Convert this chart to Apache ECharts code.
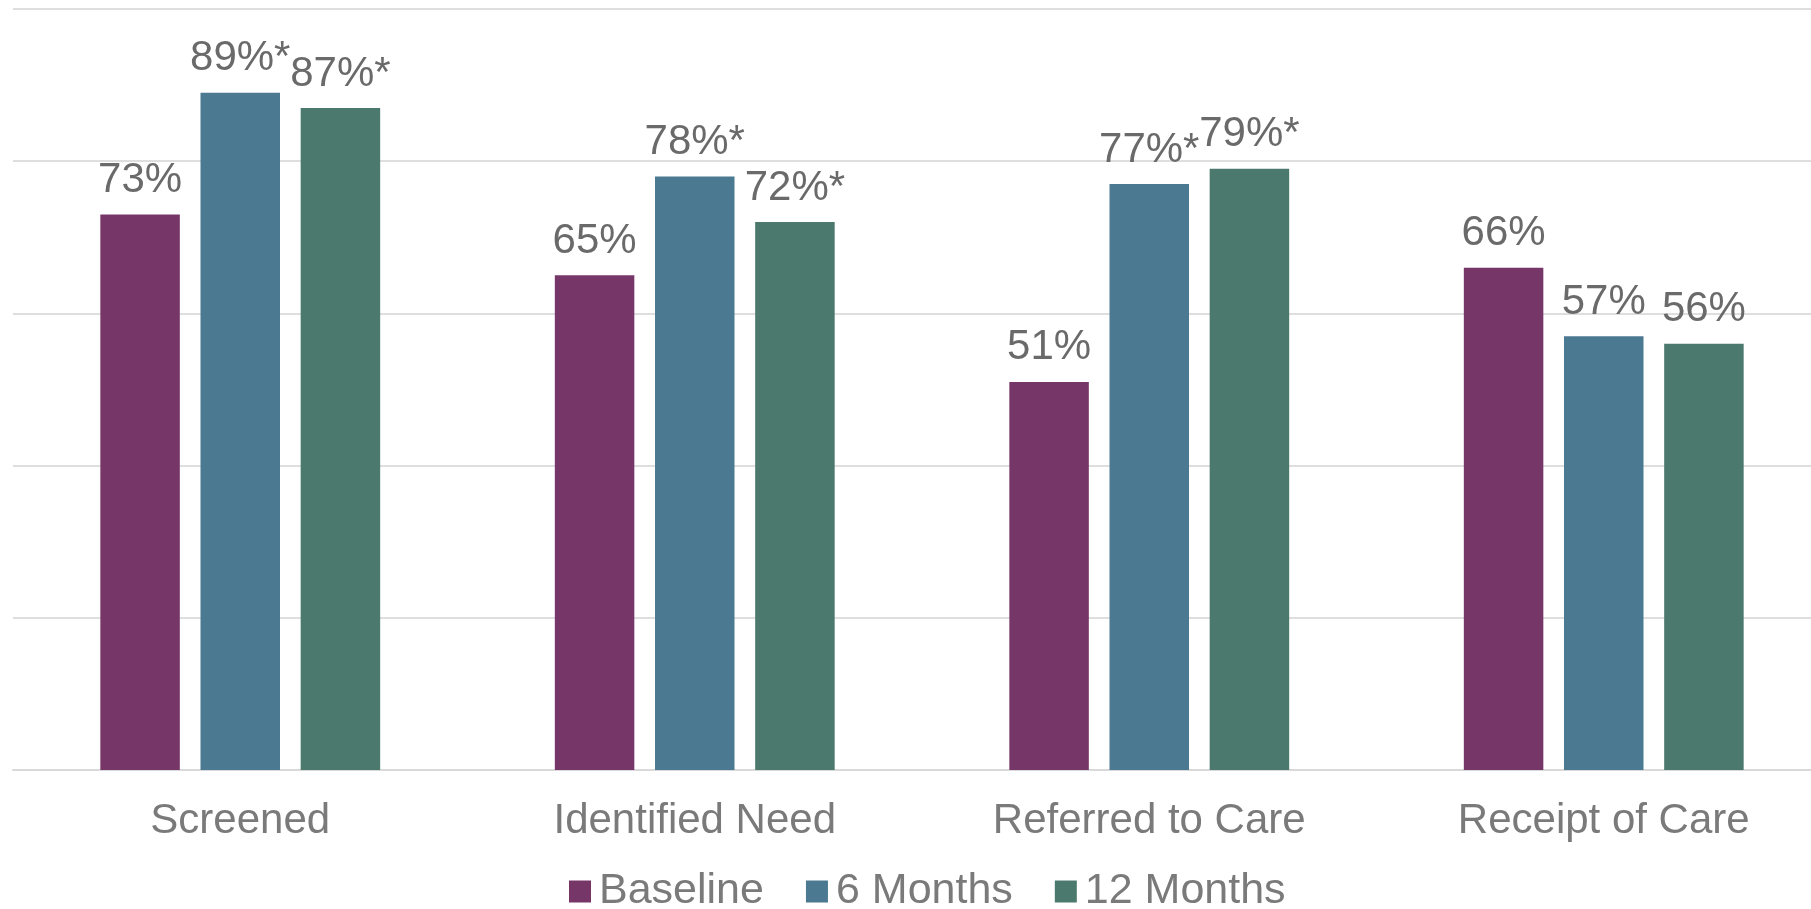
<!DOCTYPE html>
<html>
<head>
<meta charset="utf-8">
<script src="https://cdn.jsdelivr.net/npm/echarts@6/dist/echarts.min.js"></script>
<style>
html,body{margin:0;padding:0;background:#fff;}
#chart{width:1811px;height:909px;}
</style>
</head>
<body>
<div id="chart"></div>
<script>
const categories = ['Screened', 'Identified Need', 'Referred to Care', 'Receipt of Care'];
const seriesNames = ['Baseline', '6 Months', '12 Months'];
const baseline = [73, 65, 51, 66];
const months6 = [89, 78, 77, 57];
const months12 = [87, 72, 79, 56];
const labels6 = ['89%*', '78%*', '77%*', '57%'];
const labels12 = ['87%*', '72%*', '79%*', '56%'];
const labelsBase = ['73%', '65%', '51%', '66%'];
const colors = ['#763668', '#4b7991', '#4c796d'];

const chart = echarts.init(document.getElementById('chart'), null, {renderer: 'canvas'});
const font = '"Liberation Sans", Arial, sans-serif';

function mk(name, data, labs, color) {
  return {
    name: name,
    type: 'bar',
    data: data,
    barWidth: 79.5,
    barGap: '26%',
    itemStyle: {color: color},
    label: {
      show: true,
      position: 'top',
      distance: 13,
      fontFamily: font,
      fontSize: 42,
      color: '#6a6a6a',
      formatter: p => labs[p.dataIndex]
    }
  };
}

chart.setOption({
  animation: false,
  color: colors,
  grid: {left: 13, width: 1818, top: 9, height: 761, containLabel: false, outerBoundsMode: 'none'},
  legend: {
    left: 569,
    top: 870,
    padding: 0,
    itemWidth: 22,
    itemHeight: 22,
    itemGap: 42,
    icon: 'rect',
    textStyle: {fontFamily: font, fontSize: 43, color: '#7a7a7a', padding: [0,0,0,3]},
    data: seriesNames
  },
  xAxis: {
    type: 'category',
    data: categories,
    axisLine: {show: true, lineStyle: {color: '#d9d9d9', width: 2}},
    axisTick: {show: false},
    axisLabel: {fontFamily: font, fontSize: 42, color: '#7a7a7a', margin: 30}
  },
  yAxis: {
    type: 'value',
    min: 0,
    max: 100,
    interval: 20,
    axisLabel: {show: false},
    axisLine: {show: false},
    axisTick: {show: false},
    splitLine: {lineStyle: {color: '#dedede', width: 2}}
  },
  series: [
    mk(seriesNames[0], baseline, labelsBase, colors[0]),
    mk(seriesNames[1], months6, labels6, colors[1]),
    mk(seriesNames[2], months12, labels12, colors[2])
  ]
});
</script>
</body>
</html>
